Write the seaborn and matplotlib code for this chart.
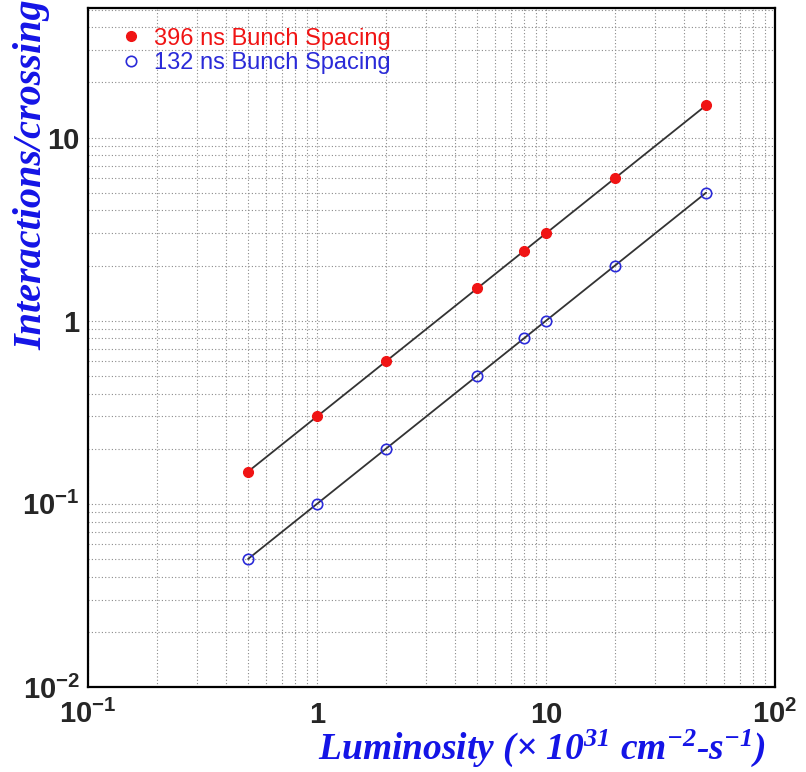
import numpy as np
import pandas as pd
import matplotlib
matplotlib.use("Agg")
import matplotlib.pyplot as plt
from matplotlib.ticker import LogLocator, FuncFormatter, NullFormatter
import seaborn as sns

# luminosity (x 10^31 cm^-2 s^-1)
lumi = [0.5, 1, 2, 5, 8, 10, 20, 50]
# interactions per crossing
int_396 = [0.15, 0.3, 0.6, 1.5, 2.4, 3, 6, 15]
int_132 = [0.05, 0.1, 0.2, 0.5, 0.8, 1, 2, 5]

labels = ["396 ns Bunch Spacing", "132 ns Bunch Spacing"]

df = pd.DataFrame({
    "lumi": lumi + lumi,
    "ints": int_396 + int_132,
    "spacing": [labels[0]] * len(lumi) + [labels[1]] * len(lumi),
})

sns.set_style("white")
plt.rcParams["font.family"] = ["Liberation Sans", "DejaVu Sans"]
plt.rcParams["mathtext.fontset"] = "custom"
plt.rcParams["mathtext.bf"] = "Liberation Sans:bold"
plt.rcParams["mathtext.default"] = "regular"
plt.rcParams["axes.unicode_minus"] = False

RED = "#f01414"
BLUE = "#2a2ad8"
TITLE_BLUE = "#1414e6"

fig = plt.figure(figsize=(8.06, 7.72), dpi=100)
ax = fig.add_axes([88 / 806, 1 - 687 / 772, (775 - 88) / 806, (687 - 8) / 772])

# black lines through the points
sns.lineplot(data=df, x="lumi", y="ints", units="spacing", estimator=None,
             color="#333333", lw=1.3, ax=ax, legend=False, zorder=2)

# markers
ax.plot(lumi, int_396, "o", ms=7, color=RED, mec=RED, label=labels[0], zorder=3)
ax.plot(lumi, int_132, "o", ms=7.5, mfc="none", mec=BLUE, mew=1.2,
        label=labels[1], zorder=3)

ax.set_xscale("log")
ax.set_yscale("log")
ax.set_xlim(0.1, 100)
ax.set_ylim(0.01, 51)

ax.xaxis.set_major_locator(LogLocator(base=10, numticks=10))
ax.yaxis.set_major_locator(LogLocator(base=10, numticks=10))
ax.xaxis.set_minor_locator(LogLocator(base=10, subs=np.arange(2, 10), numticks=20))
ax.yaxis.set_minor_locator(LogLocator(base=10, subs=np.arange(2, 10), numticks=20))
ax.xaxis.set_minor_formatter(NullFormatter())
ax.yaxis.set_minor_formatter(NullFormatter())


def root_fmt(v, pos):
    e = int(round(np.log10(v)))
    if e == 0:
        return "1"
    if e == 1:
        return "10"
    return r"$\mathbf{10^{%d}}$" % e


ax.xaxis.set_major_formatter(FuncFormatter(root_fmt))
ax.yaxis.set_major_formatter(FuncFormatter(root_fmt))

ax.grid(which="both", linestyle=(0, (1, 2)), color="#8a8a8a", lw=0.8)
ax.set_axisbelow(True)

for s in ax.spines.values():
    s.set_linewidth(1.6)
    s.set_color("black")

ax.tick_params(which="major", direction="in", length=20, width=1.0,
               labelsize=21, top=False, right=False)
ax.tick_params(axis="y", which="major", pad=6)
ax.tick_params(axis="x", which="major", pad=26)
ax.tick_params(which="minor", direction="in", length=10, width=0.8,
               top=False, right=False)
for lab in ax.get_xticklabels() + ax.get_yticklabels():
    lab.set_fontweight("bold")
for lab in ax.get_xticklabels():
    lab.set_verticalalignment("baseline")

ax.set_xlabel(r"Luminosity ($\times$ 10$^{31}$ cm$^{-2}$-s$^{-1}$)",
              family="Liberation Serif", style="italic", weight="bold",
              fontsize=27, color=TITLE_BLUE, loc="right", va="baseline")
ax.xaxis.set_label_coords(0.986, -0.106)
ax.set_ylabel("Interactions/crossing", family="Liberation Serif",
              style="italic", weight="bold", fontsize=29, color=TITLE_BLUE,
              loc="top")
ax.yaxis.set_label_coords(-0.055, 1.012)

leg = ax.legend(loc="upper left", bbox_to_anchor=(0.031, 0.985), frameon=False,
                fontsize=17, handletextpad=0.5, labelspacing=0.1,
                borderaxespad=0, handlelength=1.0, labelcolor="markeredgecolor")

fig.savefig("out.png", dpi=100)
